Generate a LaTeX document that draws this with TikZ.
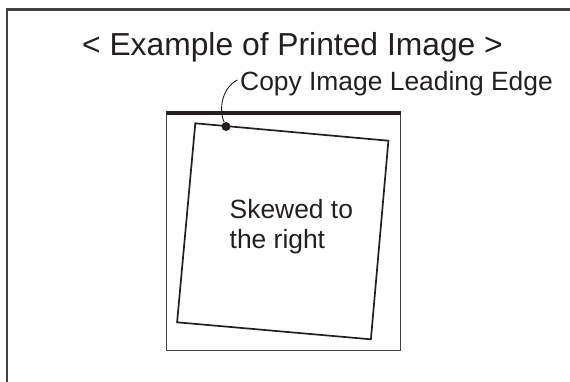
\documentclass[tikz,border=0pt]{standalone}
\usepackage{fontspec}
\setmainfont{Liberation Sans}
\usetikzlibrary{positioning}
\definecolor{ink}{HTML}{231F20}

\newcommand*{\pagew}{570}
\newcommand*{\pageh}{381}
\newcommand*{\sqleft}{166}
\newcommand*{\sqright}{400.7}
\newcommand*{\sqtop}{113}
\newcommand*{\sqbottom}{350}

\begin{document}
\begin{tikzpicture}
[
	x=1pt,y=-1pt,
	caption/.style={text=ink,inner sep=0pt,anchor=base west,font=\fontsize{26.4}{30}\selectfont},
	leaddot/.style={circle,fill=ink,inner sep=0pt,minimum size=9pt}
]

	\useasboundingbox (0,0) rectangle (\pagew,\pageh);

	% outer frame
	\draw[ink!85, line width=2.8pt] (7,\pageh+5) -- (7,9.5) -- (\pagew+5,9.5);

	% title
	\node[text=ink, inner sep=0pt, anchor=base, font=\fontsize{31.8}{36}\selectfont] (title) at (292.5,55) {< Example of Printed Image >};

	% paper outline and leading edge
	\draw[ink!85, line width=0.9pt] (\sqleft,\sqtop) rectangle (\sqright,\sqbottom);
	\draw[ink, line width=3.4pt] (\sqleft,\sqtop) -- (\sqright,\sqtop);

	% skewed copy image
	\draw[ink, line width=1.7pt, line join=miter] (195.3,123.3) -- (388.4,140.7) -- (370.9,339.3) -- (177.1,322.3) -- cycle;

	\node[caption] (skewtop) at (229.5,218.3) {Skewed to};
	\node[caption] (skewbot) at (229.5,248.8) {the right};

	% leader to the leading edge
	\node[caption] (edgelabel) at (240,90) {Copy Image Leading Edge};
	\coordinate (leadstart) at (237.5,80);
	\node[leaddot] (edgedot) at (226,126.5) {};
	\draw[ink, line width=0.9pt] (leadstart) .. controls (223,87) and (218,108) .. (edgedot);

\end{tikzpicture}
\end{document}
